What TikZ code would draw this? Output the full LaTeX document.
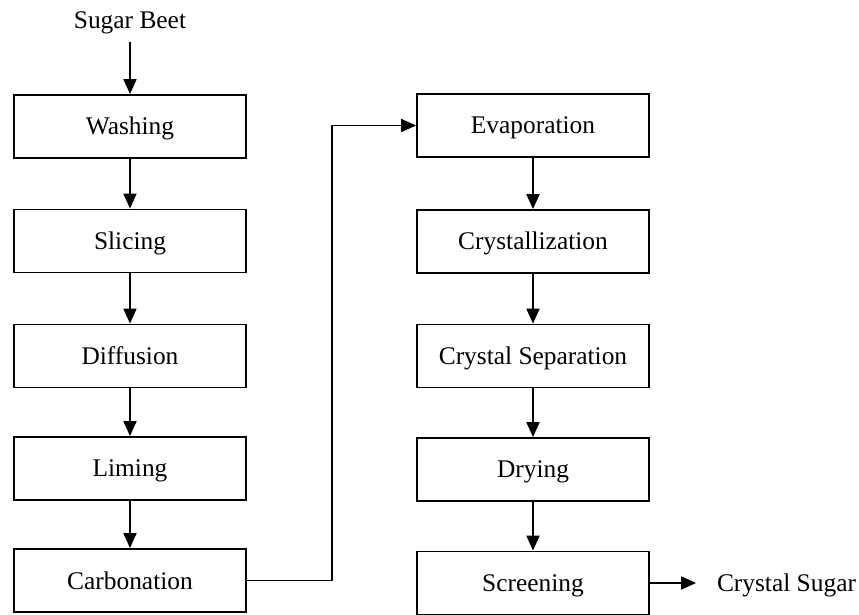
\documentclass[tikz,border=0pt]{standalone}
\usepackage{fontspec}
\setmainfont{Liberation Serif}
\usetikzlibrary{arrows.meta}

\begin{document}
\begin{tikzpicture}[x=0.5pt, y=-0.5pt, line width=0.9pt,
    >={Triangle[length=7.5pt, width=6.5pt]},
    stage/.style={draw, minimum width=116pt, minimum height=31.5pt, inner sep=0pt,
        text height=9pt, text depth=0.5pt, font=\fontsize{12.7}{15}\selectfont},
    flowtext/.style={font=\fontsize{12.7}{15}\selectfont}]
    \useasboundingbox (0,0) rectangle (859,615);

    \node[flowtext] (beet) at (130,23) {Sugar Beet};

    % left column
    \foreach \name/\txt/\yc in {
        wash/Washing/126.5,
        slice/Slicing/241,
        diff/Diffusion/356,
        lime/Liming/468.5,
        carb/Carbonation/580.5
    } {
        \node[stage] (\name) at (130,\yc) {\txt};
    }

    % right column
    \foreach \name/\txt/\yc in {
        evap/Evaporation/125.5,
        cryst/Crystallization/241.5,
        sep/Crystal Separation/356,
        dry/Drying/469.5,
        screen/Screening/583
    } {
        \node[stage] (\name) at (533,\yc) {\txt};
    }

    \node[flowtext, inner xsep=10pt] (sugar) at (786.5,585) {Crystal Sugar};

    \foreach \a/\b in {beet/wash, wash/slice, slice/diff, diff/lime, lime/carb,
                       evap/cryst, cryst/sep, sep/dry, dry/screen} {
        \draw[->] (\a) -- (\b);
    }
    \draw[->] (screen.east) -- (sugar.west |- screen.east);

    \draw[->] (carb.east) -- ++(85,0) |- (evap.west);
\end{tikzpicture}
\end{document}
